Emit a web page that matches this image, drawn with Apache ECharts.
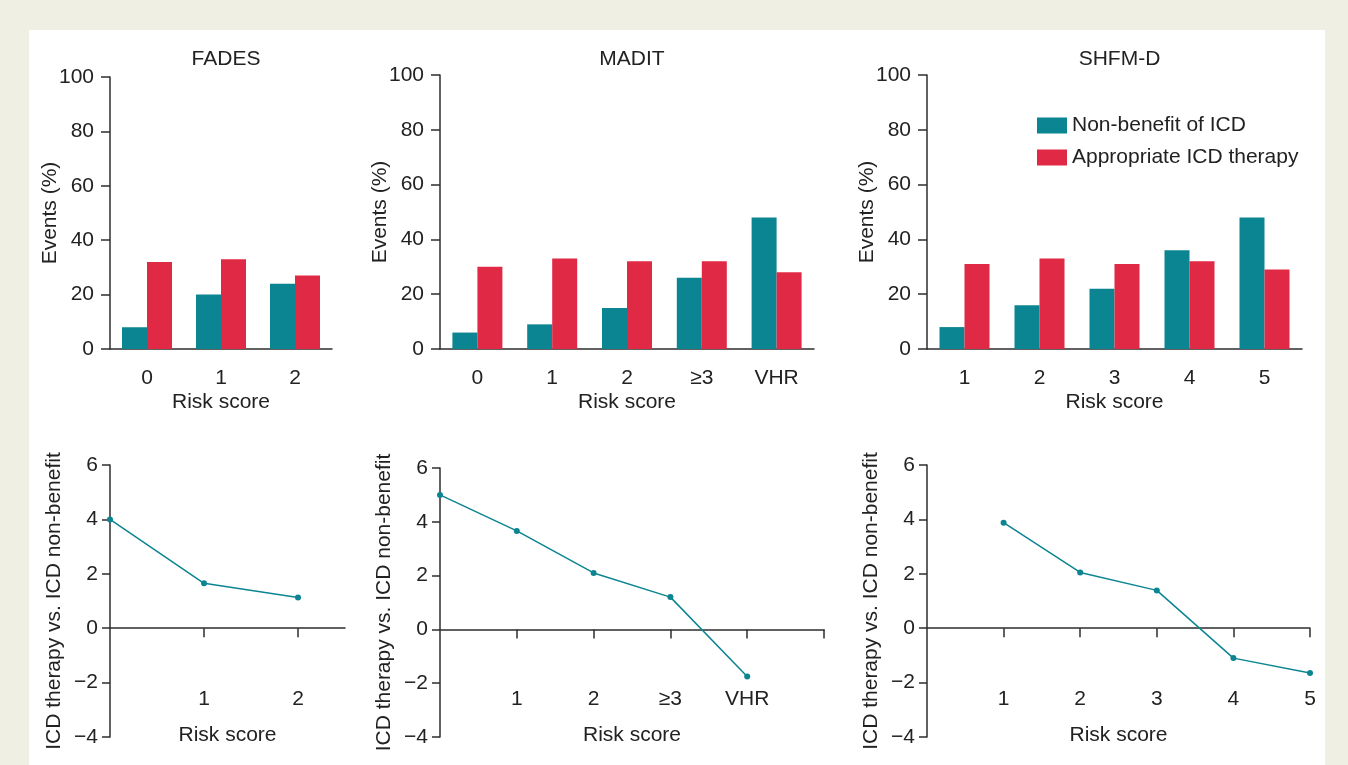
<!DOCTYPE html>
<html>
<head>
<meta charset="utf-8">
<script src="https://cdn.jsdelivr.net/npm/echarts@6/dist/echarts.min.js"></script>
<style>
  html, body { margin: 0; padding: 0; background: #efefe3; }
  #chart { width: 1348px; height: 765px; }
</style>
</head>
<body>
<div id="chart"></div>
<script>
// series names (legend)
const seriesNames = ['Non-benefit of ICD', 'Appropriate ICD therapy']

// FADES
const fadesScores = ['0', '1', '2']
const fadesNonBenefit = [8, 20, 24]
const fadesTherapy = [32, 33, 27]
const fadesRatio = [4.0, 1.65, 1.13]

// MADIT
const maditScores = ['0', '1', '2', '≥3', 'VHR']
const maditNonBenefit = [6, 9, 15, 26, 48]
const maditTherapy = [30, 33, 32, 32, 28]
const maditRatio = [5.0, 3.66, 2.1, 1.2, -1.75]

// SHFM-D
const shfmScores = ['1', '2', '3', '4', '5']
const shfmNonBenefit = [8, 16, 22, 36, 48]
const shfmTherapy = [31, 33, 31, 32, 29]
const shfmRatio = [3.88, 2.05, 1.39, -1.1, -1.65]

// tick labels
const eventTicks = [0, 20, 40, 60, 80, 100]
const ratioTicks = [-4, -2, 0, 2, 4, 6]

const TEAL = '#0b8591'
const RED = '#e02945'
const AXIS = '#2e2e2e'
const TEXT = '#222'
const FONT = '"Liberation Sans", Arial, Helvetica, sans-serif'

const chart = echarts.init(document.getElementById('chart'))

// panel layout
const panels = [
  { title: 'FADES', scores: fadesScores, nb: fadesNonBenefit, th: fadesTherapy, ratio: fadesRatio, start: 0, xMax: 2.5,
    top: { left: 110, top: 77, width: 222, height: 272 },
    bottom: { left: 110, top: 465, width: 235, height: 272 }, ticks: [1, 2] },
  { title: 'MADIT', scores: maditScores, nb: maditNonBenefit, th: maditTherapy, ratio: maditRatio, start: 0, xMax: 5,
    top: { left: 440, top: 75, width: 374, height: 274 },
    bottom: { left: 440, top: 468, width: 384, height: 269 }, ticks: [1, 2, 3, 4, 5] },
  { title: 'SHFM-D', scores: shfmScores, nb: shfmNonBenefit, th: shfmTherapy, ratio: shfmRatio, start: 1, xMax: 5,
    top: { left: 927, top: 75, width: 375, height: 274 },
    bottom: { left: 927, top: 465, width: 383, height: 272 }, ticks: [1, 2, 3, 4, 5] }
]

const lineStyle = { color: AXIS, width: 1.5 }
const labelStyle = { color: TEXT, fontSize: 21, fontFamily: FONT }
const minus = v => (v < 0 ? '\u2212' + Math.abs(v) : String(v))

const grid = []
const xAxis = []
const yAxis = []
const series = []
const title = []

panels.forEach((p, i) => {
  title.push({
    text: p.title,
    left: p.top.left + p.top.width / 2,
    top: 44,
    textAlign: 'center',
    textStyle: { color: TEXT, fontSize: 21, fontWeight: 'normal', fontFamily: FONT }
  })

  // top bar chart
  grid.push({ left: p.top.left, top: p.top.top, width: p.top.width, height: p.top.height, outerBoundsMode: 'none' })
  xAxis.push({
    type: 'category', gridIndex: i, data: p.scores,
    name: 'Risk score', nameLocation: 'middle', nameGap: 43, nameMoveOverlap: false,
    nameTextStyle: labelStyle,
    axisLine: { lineStyle },
    axisTick: { alignWithLabel: true, length: 9, lineStyle },
    axisLabel: Object.assign({ margin: 19 }, labelStyle)
  })
  yAxis.push({
    type: 'value', gridIndex: i, min: eventTicks[0], max: eventTicks[eventTicks.length - 1], interval: 20,
    name: 'Events (%)', nameLocation: 'middle', nameGap: 49, nameMoveOverlap: false,
    nameTextStyle: labelStyle,
    axisLine: { show: true, lineStyle },
    axisTick: { show: true, length: 9, lineStyle },
    axisLabel: Object.assign({ margin: 16 }, labelStyle),
    splitLine: { show: false }
  })
  series.push({
    name: seriesNames[0], type: 'bar', xAxisIndex: i, yAxisIndex: i,
    data: p.nb, barWidth: 25, barGap: '0%', itemStyle: { color: TEAL }
  })
  series.push({
    name: seriesNames[1], type: 'bar', xAxisIndex: i, yAxisIndex: i,
    data: p.th, barWidth: 25, barGap: '0%', itemStyle: { color: RED }
  })
})

panels.forEach((p, i) => {
  const k = i + 3
  grid.push({ left: p.bottom.left, top: p.bottom.top, width: p.bottom.width, height: p.bottom.height, outerBoundsMode: 'none' })
  const labelVals = p.scores.map((s, j) => j + p.start).filter(v => v > 0)
  // labels and name are laid out from the grid bottom, so pull them up above it
  xAxis.push({
    type: 'value', gridIndex: k, min: 0, max: p.xMax,
    name: 'Risk score', nameLocation: 'middle', nameGap: -12, nameMoveOverlap: false,
    nameTextStyle: labelStyle,
    axisLine: { onZero: true, lineStyle },
    axisTick: { show: true, length: 9, lineStyle, customValues: p.ticks },
    axisLabel: Object.assign({
      margin: -48, customValues: labelVals,
      formatter: v => p.scores[v - p.start]
    }, labelStyle),
    splitLine: { show: false }
  })
  yAxis.push({
    type: 'value', gridIndex: k, min: ratioTicks[0], max: ratioTicks[ratioTicks.length - 1], interval: 2,
    name: 'ICD therapy vs. ICD non-benefit', nameLocation: 'middle', nameGap: 45, nameMoveOverlap: false,
    nameTextStyle: labelStyle,
    axisLine: { show: true, onZero: false, lineStyle },
    axisTick: { show: true, length: 8, lineStyle },
    axisLabel: Object.assign({ margin: 12, formatter: minus }, labelStyle),
    splitLine: { show: false }
  })
  series.push({
    name: 'ratio', type: 'line', xAxisIndex: k, yAxisIndex: k,
    data: p.ratio.map((v, j) => [j + p.start, v]),
    symbol: 'circle', symbolSize: 6,
    lineStyle: { color: TEAL, width: 1.5 },
    itemStyle: { color: TEAL }
  })
})

chart.setOption({
  backgroundColor: '#efefe3',
  animation: false,
  graphic: [{
    type: 'rect', z: -10, silent: true,
    shape: { x: 29, y: 30, width: 1296, height: 740 },
    style: { fill: '#ffffff' }
  }],
  title,
  legend: {
    data: seriesNames,
    orient: 'vertical',
    left: 1032, top: 110,
    itemWidth: 30, itemHeight: 16, itemGap: 11,
    icon: 'rect',
    textStyle: labelStyle
  },
  grid,
  xAxis,
  yAxis,
  series
})
</script>
</body>
</html>
